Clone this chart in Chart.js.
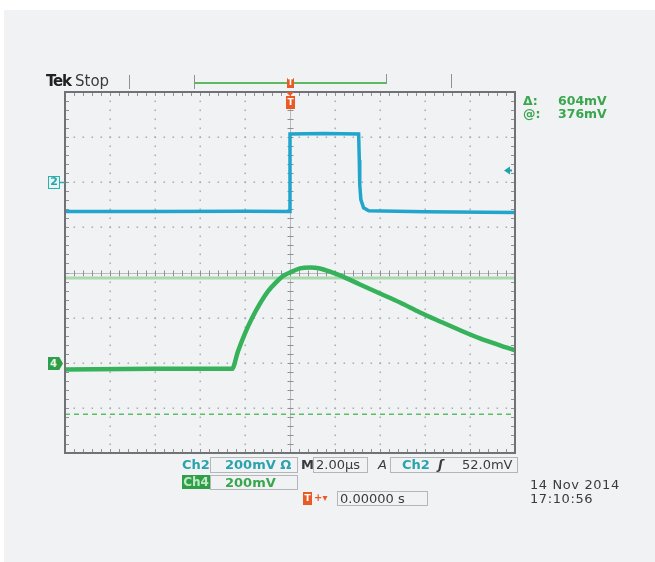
<!DOCTYPE html>
<html><head><meta charset="utf-8">
<script src="https://cdn.jsdelivr.net/npm/chart.js@4"></script>
<style>
html,body{margin:0;padding:0;background:#fff;}
#wrap{position:relative;width:655px;height:562px;overflow:hidden;background:#fff;}
#bg{position:absolute;left:4px;top:10px;right:0;bottom:0;background:#f1f2f4;}
canvas{position:absolute;left:0;top:0;}
.t{position:absolute;font-family:"DejaVu Sans",sans-serif;white-space:nowrap;line-height:1;font-size:13px;}
.box{position:absolute;border:1px solid #b4b6b9;box-sizing:border-box;}
.teal{color:#2aa3ad;font-weight:bold;}
.grn{color:#3aa64e;font-weight:bold;}
.dark{color:#3a3b3d;}
.tk{position:absolute;width:1px;background:#8f9193;}
.orng{position:absolute;background:#e95a24;color:#fff;font:bold 9px "DejaVu Sans",sans-serif;text-align:center;}
</style></head><body>
<div id="wrap">
<div id="bg"></div>
<canvas id="c" width="655" height="562"></canvas>

<!-- top status bar -->
<div class="t" style="left:46px;top:74px;font-size:15px;font-weight:bold;color:#222;letter-spacing:-1.2px;">Tek</div>
<div class="t dark" style="left:75px;top:74px;font-size:15px;">Stop</div>
<div class="tk" style="left:129px;top:75px;height:14px;"></div>
<div class="tk" style="left:194px;top:75px;height:14px;"></div>
<div style="position:absolute;left:195px;top:82px;width:192px;height:1.5px;background:#5dba62;"></div>
<div class="tk" style="left:386px;top:74px;height:9px;"></div>
<div class="tk" style="left:451px;top:74px;height:14px;"></div>
<div class="orng" style="left:287px;top:78px;width:7px;height:10px;line-height:10px;font-size:8px;">T</div>
<div style="position:absolute;left:286px;top:92px;width:0;height:0;border-left:4px solid transparent;border-right:4px solid transparent;border-top:4px solid #e95a24;"></div>
<div class="orng" style="left:286px;top:96px;width:9px;height:13px;line-height:13px;">T</div>

<!-- cursor readouts -->
<div class="t grn" style="left:523px;top:95px;font-size:12.5px;">Δ:</div>
<div class="t grn" style="left:558px;top:95px;font-size:12.5px;">604mV</div>
<div class="t grn" style="left:523px;top:108px;font-size:12.5px;">@:</div>
<div class="t grn" style="left:558px;top:108px;font-size:12.5px;">376mV</div>

<!-- channel ground markers -->
<div class="t" style="left:48px;top:176px;width:12px;height:13px;box-sizing:border-box;border:1.5px solid #2bb0b0;color:#2aa3ad;font-weight:bold;font-size:11px;line-height:10px;text-align:center;background:#e6f4f4;">2</div>
<div class="t" style="left:48px;top:357px;width:15px;height:13px;background:#2e9f48;color:#e6f5e6;font-weight:bold;font-size:10px;line-height:13px;padding-left:2px;box-sizing:border-box;clip-path:polygon(0 0,75% 0,100% 50%,75% 100%,0 100%);">4</div>

<!-- bottom readouts -->
<div class="t teal" style="left:182px;top:458px;">Ch2</div>
<div class="box" style="left:210px;top:457px;width:88px;height:16px;"></div>
<div class="t teal" style="left:225px;top:458px;">200mV Ω</div>
<div class="t dark" style="left:301px;top:458px;font-weight:bold;">M</div>
<div class="box" style="left:313px;top:457px;width:55px;height:16px;"></div>
<div class="t dark" style="left:316px;top:458px;">2.00µs</div>
<div class="t dark" style="left:378px;top:458px;font-style:italic;">A</div>
<div class="box" style="left:390px;top:457px;width:128px;height:16px;"></div>
<div class="t teal" style="left:402px;top:458px;">Ch2</div>
<div class="t dark" style="left:438px;top:458px;font-weight:bold;font-style:italic;">ʃ</div>
<div class="t dark" style="left:462px;top:458px;">52.0mV</div>

<div class="t" style="left:182px;top:475px;width:28px;height:14px;background:#2e9f48;color:#bfe8c4;font-weight:bold;font-size:12px;line-height:14px;text-align:center;">Ch4</div>
<div class="box" style="left:210px;top:475px;width:88px;height:15px;"></div>
<div class="t grn" style="left:225px;top:476px;">200mV</div>

<div class="orng" style="left:303px;top:492px;width:9px;height:13px;line-height:13px;">T</div>
<div class="t" style="left:314px;top:493px;color:#e95a24;font-weight:bold;font-size:10px;">+▾</div>
<div class="box" style="left:337px;top:491px;width:91px;height:15px;"></div>
<div class="t dark" style="left:340px;top:492px;">0.00000 s</div>

<div class="t dark" style="left:530px;top:478px;letter-spacing:0.6px;">14 Nov 2014</div>
<div class="t dark" style="left:530px;top:492px;letter-spacing:0.6px;">17:10:56</div>
</div>

<script>
// ---- oscilloscope settings ----
const X_MIN_US = -10, X_MAX_US = 10;          // 2.00 µs/div, 10 divisions
const X_TICKS_US = [-10,-8,-6,-4,-2,0,2,4,6,8,10];
const Y_TICKS_DIV = [-4,-3,-2,-1,0,1,2,3,4];
const MV_PER_DIV = 200;                        // both channels 200 mV/div
const CH2_POSITION_DIV = 2;
const CH4_POSITION_DIV = -2;
const TRIGGER_LEVEL_MV = 52;                   // Ch2 rising edge trigger
const CURSOR_LEVELS_MV = [376, -228];          // Ch4 horizontal cursors (Δ 604mV)

// ---- Ch2 (blue) pulse ----
const CH2_TIME_US = [-10, -6, -2, 0, 0, 1.5, 3.05, 3.08, 3.10, 3.15, 3.27, 3.5, 6, 10];
const CH2_MV      = [-130, -130, -129, -130, 214, 216, 214, 99, -11, -77, -113, -126, -131, -134];

// ---- Ch4 (green) response ----
const CH4_TIME_US = [-10, -6, -2.58, -2.31, -2.0, -1.69, -1.33, -0.98, -0.62, -0.27, 0.09, 0.44, 0.89, 1.33, 1.78, 2.22, 3.11, 4.0, 4.89, 5.78, 6.67, 7.56, 8.44, 9.33, 10];
const CH4_MV      = [-30, -27, -27, 51, 130, 197, 263, 316, 356, 387, 404, 418, 422, 418, 404, 387, 347, 307, 267, 223, 183, 144, 108, 77, 55];

const toDiv = (mv, pos) => mv / MV_PER_DIV + pos;
const series = (ts, mvs, pos) => ts.map((t, i) => ({x: t, y: toDiv(mvs[i], pos)}));

const scopeGrid = {
  id: 'scopeGrid',
  beforeDatasetsDraw(chart) {
    const {ctx, chartArea: a, scales: {x, y}} = chart;
    ctx.save();
    const xMinor = [], yMinor = [];
    for (let i = 0; i <= 50; i++) xMinor.push(X_MIN_US + i * 0.4);
    for (let i = 0; i <= 40; i++) yMinor.push(-4 + i * 0.2);
    // dotted graticule
    ctx.fillStyle = '#a6a8ab';
    X_TICKS_US.forEach(t => {
      if (t === X_MIN_US || t === X_MAX_US || t === 0) return;
      const px = Math.round(x.getPixelForValue(t));
      yMinor.forEach(v => { ctx.fillRect(px - 0.5, Math.round(y.getPixelForValue(v)) - 0.5, 1.4, 1.6); });
    });
    Y_TICKS_DIV.forEach(d => {
      if (d === -4 || d === 4 || d === 0) return;
      const py = Math.round(y.getPixelForValue(d));
      xMinor.forEach(v => { ctx.fillRect(Math.round(x.getPixelForValue(v)) - 0.5, py - 0.5, 1.6, 1.4); });
    });
    // center crosshair
    const cx = Math.round(x.getPixelForValue(0)) + 0.5, cy = Math.round(y.getPixelForValue(0)) + 0.5;
    ctx.strokeStyle = '#b9bbbe'; ctx.lineWidth = 1;
    ctx.beginPath(); ctx.moveTo(a.left, cy); ctx.lineTo(a.right, cy); ctx.moveTo(cx, a.top); ctx.lineTo(cx, a.bottom); ctx.stroke();
    ctx.strokeStyle = '#8e9093';
    ctx.beginPath();
    xMinor.forEach(v => { const px = Math.round(x.getPixelForValue(v)) + 0.5; ctx.moveTo(px, cy - 3); ctx.lineTo(px, cy + 3); });
    yMinor.forEach(v => { const py = Math.round(y.getPixelForValue(v)) + 0.5; ctx.moveTo(cx - 3, py); ctx.lineTo(cx + 3, py); });
    // border ticks
    xMinor.forEach(v => { const px = Math.round(x.getPixelForValue(v)) + 0.5; ctx.moveTo(px, a.top); ctx.lineTo(px, a.top + 4); ctx.moveTo(px, a.bottom); ctx.lineTo(px, a.bottom - 4); });
    yMinor.forEach(v => { const py = Math.round(y.getPixelForValue(v)) + 0.5; ctx.moveTo(a.left, py); ctx.lineTo(a.left + 4, py); ctx.moveTo(a.right, py); ctx.lineTo(a.right - 4, py); });
    ctx.stroke();
    ctx.restore();
  },
  afterDatasetsDraw(chart) {
    const {ctx, chartArea: a, scales: {y}} = chart;
    ctx.save();
    ctx.strokeStyle = '#707275'; ctx.lineWidth = 2;
    ctx.strokeRect(a.left, a.top, a.right - a.left, a.bottom - a.top);
    // trigger level arrow (right side)
    const ty = y.getPixelForValue(toDiv(TRIGGER_LEVEL_MV, CH2_POSITION_DIV));
    ctx.fillStyle = '#1fa3a8';
    ctx.beginPath(); ctx.moveTo(a.right - 11, ty); ctx.lineTo(a.right - 5, ty - 4); ctx.lineTo(a.right - 5, ty + 4); ctx.closePath(); ctx.fill();
    ctx.fillRect(a.right - 6, ty - 1, 3, 2);
    // ground marker tick on left
    const g2 = y.getPixelForValue(CH2_POSITION_DIV);
    ctx.fillStyle = '#2bb0b0'; ctx.fillRect(a.left - 5, g2 - 0.5, 5, 1.5);
    ctx.restore();
  }
};

new Chart(document.getElementById('c'), {
  type: 'line',
  data: {
    datasets: [
      { label: 'Ch2', data: series(CH2_TIME_US, CH2_MV, CH2_POSITION_DIV), borderColor: '#22a5cc', borderWidth: 3.5, pointRadius: 0, tension: 0, order: 1 },
      { label: 'Ch4', data: series(CH4_TIME_US, CH4_MV, CH4_POSITION_DIV), borderColor: '#36b25b', borderWidth: 4.5, pointRadius: 0, cubicInterpolationMode: 'monotone', order: 1 },
      { label: 'Cursor 1', data: [{x: X_MIN_US, y: toDiv(CURSOR_LEVELS_MV[0], CH4_POSITION_DIV)}, {x: X_MAX_US, y: toDiv(CURSOR_LEVELS_MV[0], CH4_POSITION_DIV)}], borderColor: '#a9d9ad', borderWidth: 3, pointRadius: 0, order: 3 },
      { label: 'Cursor 2', data: [{x: X_MIN_US, y: toDiv(CURSOR_LEVELS_MV[1], CH4_POSITION_DIV)}, {x: X_MAX_US, y: toDiv(CURSOR_LEVELS_MV[1], CH4_POSITION_DIV)}], borderColor: '#5bbd6a', borderWidth: 1.5, borderDash: [5, 4], pointRadius: 0, order: 3 }
    ]
  },
  options: {
    responsive: false,
    animation: false,
    events: [],
    layout: { padding: { left: 65, right: 140, top: 92, bottom: 109 } },
    scales: {
      x: { type: 'linear', min: X_MIN_US, max: X_MAX_US, display: false },
      y: { type: 'linear', min: -4, max: 4, display: false }
    },
    plugins: { legend: { display: false }, tooltip: { enabled: false } }
  },
  plugins: [scopeGrid]
});
</script>
</body></html>
